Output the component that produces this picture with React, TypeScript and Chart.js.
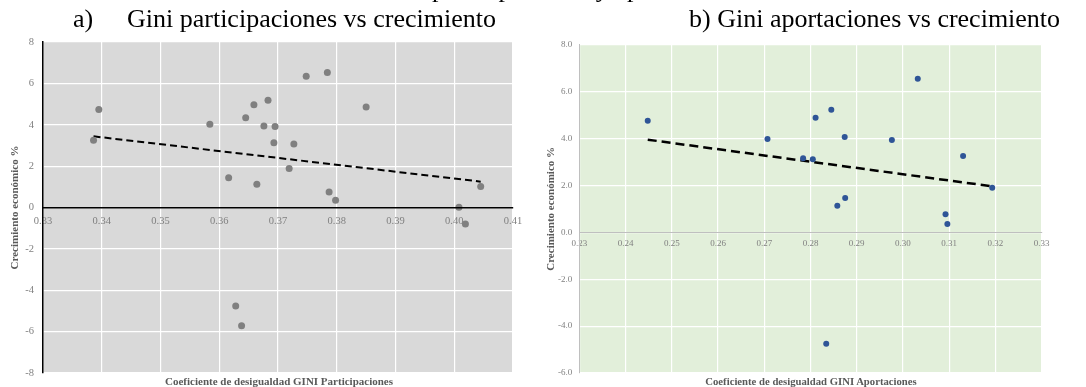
import React, { useEffect, useRef } from "react";
import { Chart, registerables } from "chart.js";

Chart.register(...registerables);

// ---- Data: panel a) Gini participaciones vs crecimiento ----
const giniParticipaciones = [
  0.3386, 0.3395, 0.3584, 0.3616, 0.3645, 0.3659, 0.3683, 0.3676, 0.3695, 0.3664, 0.3693, 0.3719,
  0.3727, 0.3748, 0.3784, 0.385, 0.3787, 0.3798, 0.4008, 0.4019, 0.4045, 0.3628, 0.3638,
];
const crecimientoA = [
  3.25, 4.74, 4.03, 1.44, 4.34, 4.97, 5.19, 3.94, 3.92, 1.12, 3.13, 1.89, 3.07, 6.34, 6.53, 4.86,
  0.75, 0.35, 0.01, -0.8, 1.01, -4.76, -5.71,
];
const trendAX = [0.3386, 0.4045];
const trendAY = [3.44, 1.25];

// ---- Data: panel b) Gini aportaciones vs crecimiento ----
const giniAportaciones = [
  0.2448, 0.2707, 0.2784, 0.2805, 0.2811, 0.2845, 0.2874, 0.2858, 0.2875, 0.2976, 0.3032, 0.313,
  0.3092, 0.3096, 0.3193, 0.2834,
];
const crecimientoB = [
  4.76, 3.98, 3.16, 3.11, 4.89, 5.23, 4.06, 1.13, 1.46, 3.94, 6.55, 3.25, 0.77, 0.35, 1.9, -4.75,
];
const trendBX = [0.2448, 0.3193];
const trendBY = [3.95, 1.96];

// ---- Axis settings / labels ----
const xRangeA = [0.33, 0.41];
const yRangeA = [-8, 8];
const xRangeB = [0.23, 0.33];
const yRangeB = [-6, 8];
const yTitle = "Crecimiento económico %";
const xTitleA = "Coeficiente de desigualdad GINI Participaciones";
const xTitleB = "Coeficiente de desigualdad GINI Aportaciones";
const titleA = "Gini participaciones vs crecimiento";
const titleB = "b) Gini aportaciones vs crecimiento";

const SERIF = "'Liberation Serif', 'Times New Roman', serif";

type PanelProps = {
  xs: number[];
  ys: number[];
  tx: number[];
  ty: number[];
  xRange: number[];
  yRange: number[];
  yDecimals: number;
  bg: string;
  pointColor: string;
  pointRadius: number;
  axisColor: string;
  axisWidth: number;
  tickFont: number;
  tickColor: string;
  xTickPad: number;
  yTickPad: number;
  yAxisWidth: number;
  yTitlePad: number;
  padding: { top: number; right: number; bottom: number };
  trendWidth: number;
  trendDash: number[];
  width: number;
  height: number;
};

function ScatterPanel(p: PanelProps) {
  const ref = useRef<HTMLCanvasElement | null>(null);
  useEffect(() => {
    if (!ref.current) return;
    const bgPlugin = {
      id: "plotBg",
      beforeDraw(chart: any) {
        const { ctx, chartArea } = chart;
        ctx.save();
        ctx.fillStyle = p.bg;
        ctx.fillRect(chartArea.left, chartArea.top, chartArea.right - chartArea.left, chartArea.bottom - chartArea.top);
        ctx.restore();
      },
    };
    const points = p.xs.map((x, i) => ({ x, y: p.ys[i] }));
    const trend = p.tx.map((x, i) => ({ x, y: p.ty[i] }));
    const chart = new Chart(ref.current, {
      type: "scatter",
      data: {
        datasets: [
          {
            data: points,
            backgroundColor: p.pointColor,
            borderColor: p.pointColor,
            borderWidth: 0,
            pointRadius: p.pointRadius,
            order: 0,
          } as any,
          {
            type: "line",
            data: trend,
            borderColor: "#000000",
            borderWidth: p.trendWidth,
            borderDash: p.trendDash,
            pointRadius: 0,
            fill: false,
            tension: 0,
            order: 1,
          } as any,
        ],
      },
      options: {
        responsive: false,
        animation: false,
        events: [],
        layout: { padding: { left: 0, top: p.padding.top, right: p.padding.right, bottom: p.padding.bottom } },
        plugins: { legend: { display: false }, tooltip: { enabled: false }, title: { display: false } },
        scales: {
          x: {
            type: "linear",
            position: { y: 0 } as any,
            min: p.xRange[0],
            max: p.xRange[1],
            ticks: {
              stepSize: 0.01,
              autoSkip: false,
              maxRotation: 0,
              padding: p.xTickPad,
              color: p.tickColor,
              font: { family: SERIF, size: p.tickFont },
              callback: (v: any) => Number(v).toFixed(2),
            },
            grid: { color: "#ffffff", lineWidth: 1.2, drawTicks: false },
            border: { color: p.axisColor, width: p.axisWidth, z: 1 } as any,
          },
          y: {
            type: "linear",
            position: "left",
            min: p.yRange[0],
            max: p.yRange[1],
            ticks: {
              stepSize: 2,
              padding: p.yTickPad,
              color: p.tickColor,
              font: { family: SERIF, size: p.tickFont },
              callback: (v: any) => Number(v).toFixed(p.yDecimals),
            },
            grid: { color: "#ffffff", lineWidth: 1.2, drawTicks: false },
            border: { color: p.axisColor, width: p.axisWidth, z: 1 } as any,
            title: {
              display: true,
              text: yTitle,
              color: "#595959",
              font: { family: SERIF, size: 11, weight: "bold" },
              padding: { top: p.yTitlePad, bottom: 0 },
            },
            afterFit: (s: any) => {
              s.width = p.yAxisWidth;
              s.paddingTop = 0;
              s.paddingBottom = 0;
            },
          },
        },
      } as any,
      plugins: [bgPlugin],
    });
    return () => chart.destroy();
  }, []);
  return <canvas ref={ref} width={p.width} height={p.height} style={{ display: "block" }} />;
}

const textBase: React.CSSProperties = {
  position: "absolute",
  fontFamily: SERIF,
  whiteSpace: "pre",
  margin: 0,
};

export default function App() {
  return (
    <div style={{ position: "fixed", left: 0, top: 0, width: 1086, height: 387, background: "#ffffff", overflow: "hidden" }}>
      <div style={{ position: "absolute", left: 0, top: 0 }}>
        <ScatterPanel
          xs={giniParticipaciones}
          ys={crecimientoA}
          tx={trendAX}
          ty={trendAY}
          xRange={xRangeA}
          yRange={yRangeA}
          yDecimals={0}
          bg="#d9d9d9"
          pointColor="#808080"
          pointRadius={3.5}
          axisColor="#000000"
          axisWidth={1.5}
          tickFont={10.5}
          tickColor="#808080"
          xTickPad={7}
          yTickPad={9}
          yAxisWidth={43}
          yTitlePad={8.4}
          padding={{ top: 42, right: 30, bottom: 14 }}
          trendWidth={2}
          trendDash={[7, 4]}
          width={543}
          height={387}
        />
      </div>
      <div style={{ position: "absolute", left: 543, top: 0 }}>
        <ScatterPanel
          xs={giniAportaciones}
          ys={crecimientoB}
          tx={trendBX}
          ty={trendBY}
          xRange={xRangeB}
          yRange={yRangeB}
          yDecimals={1}
          bg="#e2efda"
          pointColor="#2f5597"
          pointRadius={3}
          axisColor="#bfbfbf"
          axisWidth={1}
          tickFont={9}
          tickColor="#808080"
          xTickPad={5.6}
          yTickPad={7}
          yAxisWidth={36.3}
          yTitlePad={1.4}
          padding={{ top: 44.7, right: 44.3, bottom: 14 }}
          trendWidth={2.5}
          trendDash={[9, 5]}
          width={543}
          height={387}
        />
      </div>
      <div style={{ ...textBase, left: 432, top: -24.4, fontSize: 26, lineHeight: "26px", color: "#000" }}>
        participaciones y aportaciones
      </div>
      <div style={{ ...textBase, left: 73, top: 6.2, fontSize: 26, lineHeight: "26px", color: "#000" }}>a)</div>
      <div style={{ ...textBase, left: 127, top: 6.2, fontSize: 26, lineHeight: "26px", color: "#000" }}>{titleA}</div>
      <div style={{ ...textBase, left: 689, top: 6.2, fontSize: 26, lineHeight: "26px", color: "#000" }}>{titleB}</div>
      <div
        style={{
          ...textBase,
          left: 129,
          width: 300,
          top: 375,
          fontSize: 11,
          lineHeight: "13px",
          fontWeight: "bold",
          color: "#595959",
          textAlign: "center",
        }}
      >
        {xTitleA}
      </div>
      <div
        style={{
          ...textBase,
          left: 661,
          width: 300,
          top: 375,
          fontSize: 10.7,
          lineHeight: "13px",
          fontWeight: "bold",
          color: "#595959",
          textAlign: "center",
        }}
      >
        {xTitleB}
      </div>
    </div>
  );
}
